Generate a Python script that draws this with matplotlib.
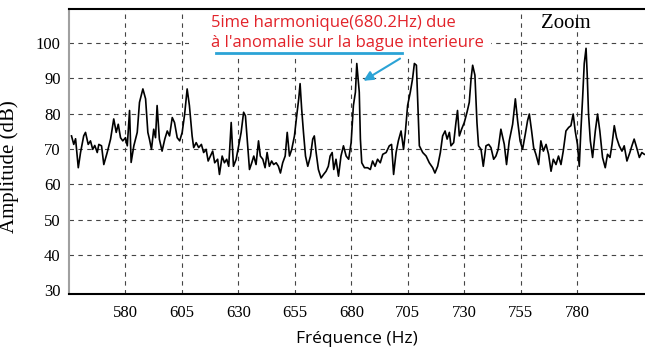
import matplotlib
matplotlib.use("Agg")
import matplotlib.pyplot as plt
from matplotlib.patches import Rectangle

# Spectre (zoom autour de 680 Hz)
freq = [556.1, 557.1, 557.9, 559.1, 560.1, 561.5, 562.3, 563.5, 564.5, 565.5,
        566.4, 567.5, 568.2, 569.4, 570.4, 571.9, 573.4, 574.8, 575.9, 576.8,
        577.8, 578.8, 580.0, 580.8, 581.8, 582.5, 583.7, 585.2, 586.2, 587.7,
        588.9, 589.9, 590.6, 591.5, 592.5, 593.3, 594.0, 595.0, 596.2, 597.4,
        598.5, 599.5, 600.7, 601.7, 602.9, 604.0, 605.1, 606.2, 607.3, 608.3,
        609.5, 610.2, 611.3, 612.4, 613.6, 614.6, 615.7, 616.6, 617.6, 618.6,
        619.5, 620.8, 621.6, 622.8, 623.8, 624.8, 625.7, 626.8, 627.8, 629.0,
        630.1, 631.2, 632.3, 633.1, 633.9, 634.9, 635.9, 636.8, 637.8, 638.9,
        639.7, 640.8, 641.8, 642.7, 643.7, 644.7, 645.6, 646.7, 647.7, 648.6,
        649.6, 650.7, 651.6, 652.6, 653.6, 654.8, 655.8, 656.7, 657.3, 658.0,
        658.8, 659.7, 660.7, 661.9, 662.9, 663.6, 664.4, 665.4, 666.6, 667.7,
        668.8, 669.8, 670.6, 671.5, 672.2, 673.2, 674.3, 675.4, 676.5, 677.7,
        678.8, 679.9, 680.9, 681.8, 682.4, 683.5, 684.0, 684.6, 685.8, 687.2,
        688.4, 689.4, 690.5, 691.6, 692.8, 693.9, 695.4, 696.8, 697.8, 698.7,
        699.8, 700.8, 702.0, 703.1, 703.9, 704.9, 706.1, 707.1, 707.9, 708.8,
        709.3, 710.1, 711.6, 713.1, 714.5, 716.0, 717.0, 718.2, 719.4, 720.4,
        721.5, 722.4, 723.4, 724.1, 725.3, 726.3, 727.0, 727.8, 728.8, 730.0,
        731.2, 732.2, 733.0, 733.7, 734.7, 735.6, 736.3, 737.4, 738.4, 739.6,
        740.8, 741.8, 743.0, 744.0, 745.0, 746.2, 747.7, 748.7, 749.9, 751.4,
        752.6, 753.6, 754.7, 755.8, 757.0, 758.0, 758.8, 759.8, 760.7, 761.7,
        762.9, 763.9, 765.0, 766.2, 767.3, 768.4, 769.4, 770.6, 771.7, 772.8,
        773.8, 775.0, 776.2, 777.2, 778.2, 779.1, 780.1, 780.9, 781.6, 782.4,
        783.1, 783.9, 784.4, 785.0, 785.8, 786.8, 788.0, 789.0, 790.0, 791.2,
        792.4, 793.4, 794.5, 795.4, 796.4, 797.4, 798.6, 799.8, 800.8, 802.0,
        803.3, 804.2, 805.2, 806.3, 807.5, 808.6, 809.7]

amplitude = [73.7, 71.3, 72.9, 64.7, 69.0, 73.7, 74.7, 71.3, 72.3, 69.9,
             71.0, 69.0, 71.3, 70.9, 65.6, 69.0, 72.8, 78.5, 74.7, 77.0,
             73.2, 72.3, 73.2, 70.9, 80.9, 66.2, 70.9, 74.7, 83.2, 87.0,
             84.2, 74.7, 72.8, 69.9, 75.6, 73.2, 82.3, 72.8, 69.4, 72.8,
             75.1, 73.7, 78.9, 77.5, 73.2, 72.3, 74.7, 79.9, 87.0, 82.3,
             73.7, 70.4, 71.8, 70.4, 71.3, 69.0, 69.9, 66.6, 68.0, 69.4,
             66.1, 67.1, 62.8, 68.0, 66.1, 67.1, 65.1, 77.5, 65.1, 67.1,
             70.9, 74.7, 80.4, 79.4, 72.8, 64.2, 66.1, 68.0, 65.6, 72.3,
             68.0, 67.1, 64.7, 69.0, 65.1, 66.6, 65.6, 66.1, 65.1, 63.2,
             66.1, 68.0, 74.7, 68.0, 69.9, 73.7, 79.4, 84.2, 88.5, 81.3,
             74.7, 68.0, 65.1, 68.0, 72.8, 73.7, 69.0, 64.2, 61.8, 62.8,
             63.7, 65.1, 68.0, 69.0, 64.2, 67.1, 62.3, 68.0, 70.9, 68.0,
             67.1, 71.8, 82.3, 86.1, 94.2, 86.1, 72.8, 66.1, 64.7, 64.7,
             64.2, 66.6, 65.1, 67.1, 66.1, 68.5, 69.0, 70.9, 71.3, 62.8,
             69.0, 72.3, 75.1, 69.9, 74.7, 82.3, 86.1, 89.9, 94.2, 93.7,
             85.1, 70.9, 69.0, 68.0, 66.1, 64.7, 63.2, 65.1, 69.0, 73.7,
             75.1, 72.8, 74.7, 70.9, 71.8, 77.5, 80.9, 73.7, 75.6, 77.5,
             80.4, 83.2, 89.9, 93.7, 90.9, 77.5, 70.9, 69.9, 65.1, 70.9,
             71.3, 70.4, 67.1, 68.0, 69.9, 75.6, 71.3, 65.6, 72.3, 77.0,
             84.2, 78.0, 72.3, 69.9, 74.2, 78.0, 79.9, 75.1, 70.4, 68.5,
             65.6, 72.3, 69.4, 71.3, 68.5, 63.7, 67.1, 65.6, 68.0, 65.6,
             69.4, 75.1, 76.1, 76.6, 79.9, 75.1, 71.3, 65.1, 75.1, 84.7,
             94.2, 98.5, 91.3, 79.9, 72.3, 67.6, 75.1, 79.9, 75.1, 67.6,
             64.7, 68.5, 67.6, 71.3, 76.6, 73.2, 70.9, 69.4, 70.9, 66.6,
             69.0, 70.9, 72.8, 70.4, 67.6, 69.0, 68.5]

xticks = [580, 605, 630, 655, 680, 705, 730, 755, 780]
yticks = [30, 40, 50, 60, 70, 80, 90, 100]

serif = "Liberation Serif"
sans = "Open Sans"

fig = plt.figure(figsize=(6.45, 3.49), dpi=100)
ax = fig.add_axes([0.107, 0.158, 0.893, 0.816])

ax.plot(freq, amplitude, color="black", linewidth=1.2, zorder=3)

ax.set_xlim(555, 810)
ax.set_ylim(29, 109.6)
ax.set_xticks(xticks)
ax.set_yticks(yticks)
ax.tick_params(length=0, labelsize=12)
ax.tick_params(axis="x", pad=8)
ax.tick_params(axis="y", pad=6)
for lab in ax.get_xticklabels() + ax.get_yticklabels():
    lab.set_fontfamily(serif)

# grille en pointillés comme sur le scan
ax.grid(True, color="#444444", linestyle=(0, (4, 4)), linewidth=0.8)
ax.yaxis.get_gridlines()[0].set_visible(False)

ax.spines["right"].set_visible(False)
ax.spines["left"].set_color("#a0a0a0")
ax.spines["left"].set_linewidth(1.5)
ax.spines["bottom"].set_linewidth(1.5)
ax.spines["top"].set_linewidth(1.5)

ax.set_ylabel("Amplitude (dB)", fontfamily=serif, fontsize=15)
ax.yaxis.set_label_coords(-0.087, 0.446)
ax.set_xlabel("Fréquence (Hz)", fontfamily=sans, fontsize=12.5, labelpad=7)

ax.text(775, 105.4, "Zoom", fontfamily=serif, fontsize=15,
        ha="center", va="center")

# fond blanc sous le texte rouge (cache la grille)
ax.add_patch(Rectangle((608.3, 96.0), 742 - 608.3, 109.6 - 96.0,
                       facecolor="white", edgecolor="none", zorder=2))

# annotation de la 5ieme harmonique
rouge = "#e2232a"
bleu = "#2ba3d6"
ax.text(618, 105.7, "5ime harmonique(680.2Hz) due", color=rouge,
        fontfamily=sans, fontsize=12, va="center", zorder=4)
ax.text(618, 100.0, "à l'anomalie sur la bague interieure", color=rouge,
        fontfamily=sans, fontsize=12, va="center", zorder=4)
ax.plot([619.9, 702.6], [97.1, 97.1], color=bleu, linewidth=2, zorder=4)
ax.annotate("", xy=(684.3, 88.9), xytext=(702.6, 96.0),
            arrowprops=dict(arrowstyle="-|>", color=bleu, lw=1.5,
                            mutation_scale=14), zorder=4)

fig.savefig("out.png", dpi=100)
